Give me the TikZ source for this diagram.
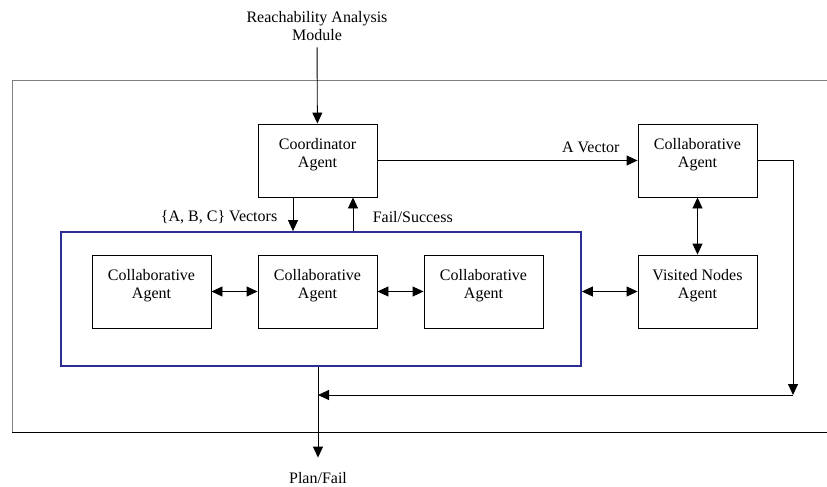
\documentclass[tikz,border=0pt]{standalone}
\usepackage{fontspec}
\setmainfont{Liberation Serif}
\usetikzlibrary{arrows.meta,positioning,calc}

\definecolor{teamblue}{RGB}{44,46,150}
\definecolor{framegray}{RGB}{128,128,128}

\begin{document}
\begin{tikzpicture}[x=1pt,y=-1pt,line width=0.9pt,
  font=\fontsize{16}{18}\selectfont,
  >={Triangle[length=11pt,width=10pt]},
  agent/.style={draw,align=center,minimum width=119,minimum height=73,text depth=15pt},
  team/.style={draw=teamblue,line width=1.8pt,minimum width=520,minimum height=134}]
\useasboundingbox (0,0) rectangle (827,487);

% Outer frame (open on the right)
\draw[framegray] (830,80) -- (12,80) -- (12,432);
\draw (12,432) -- (830,432);

% Agents
\node[agent] (coord)   at (317.5,160.5) {Coordinator\\Agent};
\node[agent] (collabR) at (697.5,160.5) {Collaborative\\Agent};
\node[agent] (visited) at (697.5,291.5) {Visited Nodes\\Agent};

% Team of collaborative agents
\node[team] (team) at (321,299) {};
\node[agent] (collabA) at (151.5,291.5) {Collaborative\\Agent};
\node[agent] (collabB) at (317.5,291.5) {Collaborative\\Agent};
\node[agent] (collabC) at (483.5,291.5) {Collaborative\\Agent};

% Input and output
\node[align=center] (reach) at (317,26) {Reachability Analysis\\Module};
\node (plan) at (318,478) {Plan/Fail};
\coordinate (corner) at (793,395);

\draw[->,shorten <=3pt] (reach) -- (coord);
\draw[->] (coord) -- (collabR) node[pos=0.82,above=4pt] {A Vector};
\draw[->] ([xshift=-24.5]coord.south) -- ([xshift=-24.5]coord.south |- team.north)
  node[midway,left=12pt,yshift=-3pt] {\{A, B, C\} Vectors};
\draw[->] ([xshift=35.5]coord.south |- team.north) -- ([xshift=35.5]coord.south)
  node[midway,right=16pt,yshift=-3pt] {Fail/Success};

\draw[<->] (collabA) -- (collabB);
\draw[<->] (collabB) -- (collabC);
\draw[<->] (team.east |- visited) -- (visited);
\draw[<->] (collabR) -- (visited);

% Feedback loop to the output
\draw[->] (collabR.east) -| (corner);
\draw[->] (corner) -- (corner -| plan);
\draw[->,shorten >=11pt] (team.south -| plan) -- (plan);

\end{tikzpicture}
\end{document}
